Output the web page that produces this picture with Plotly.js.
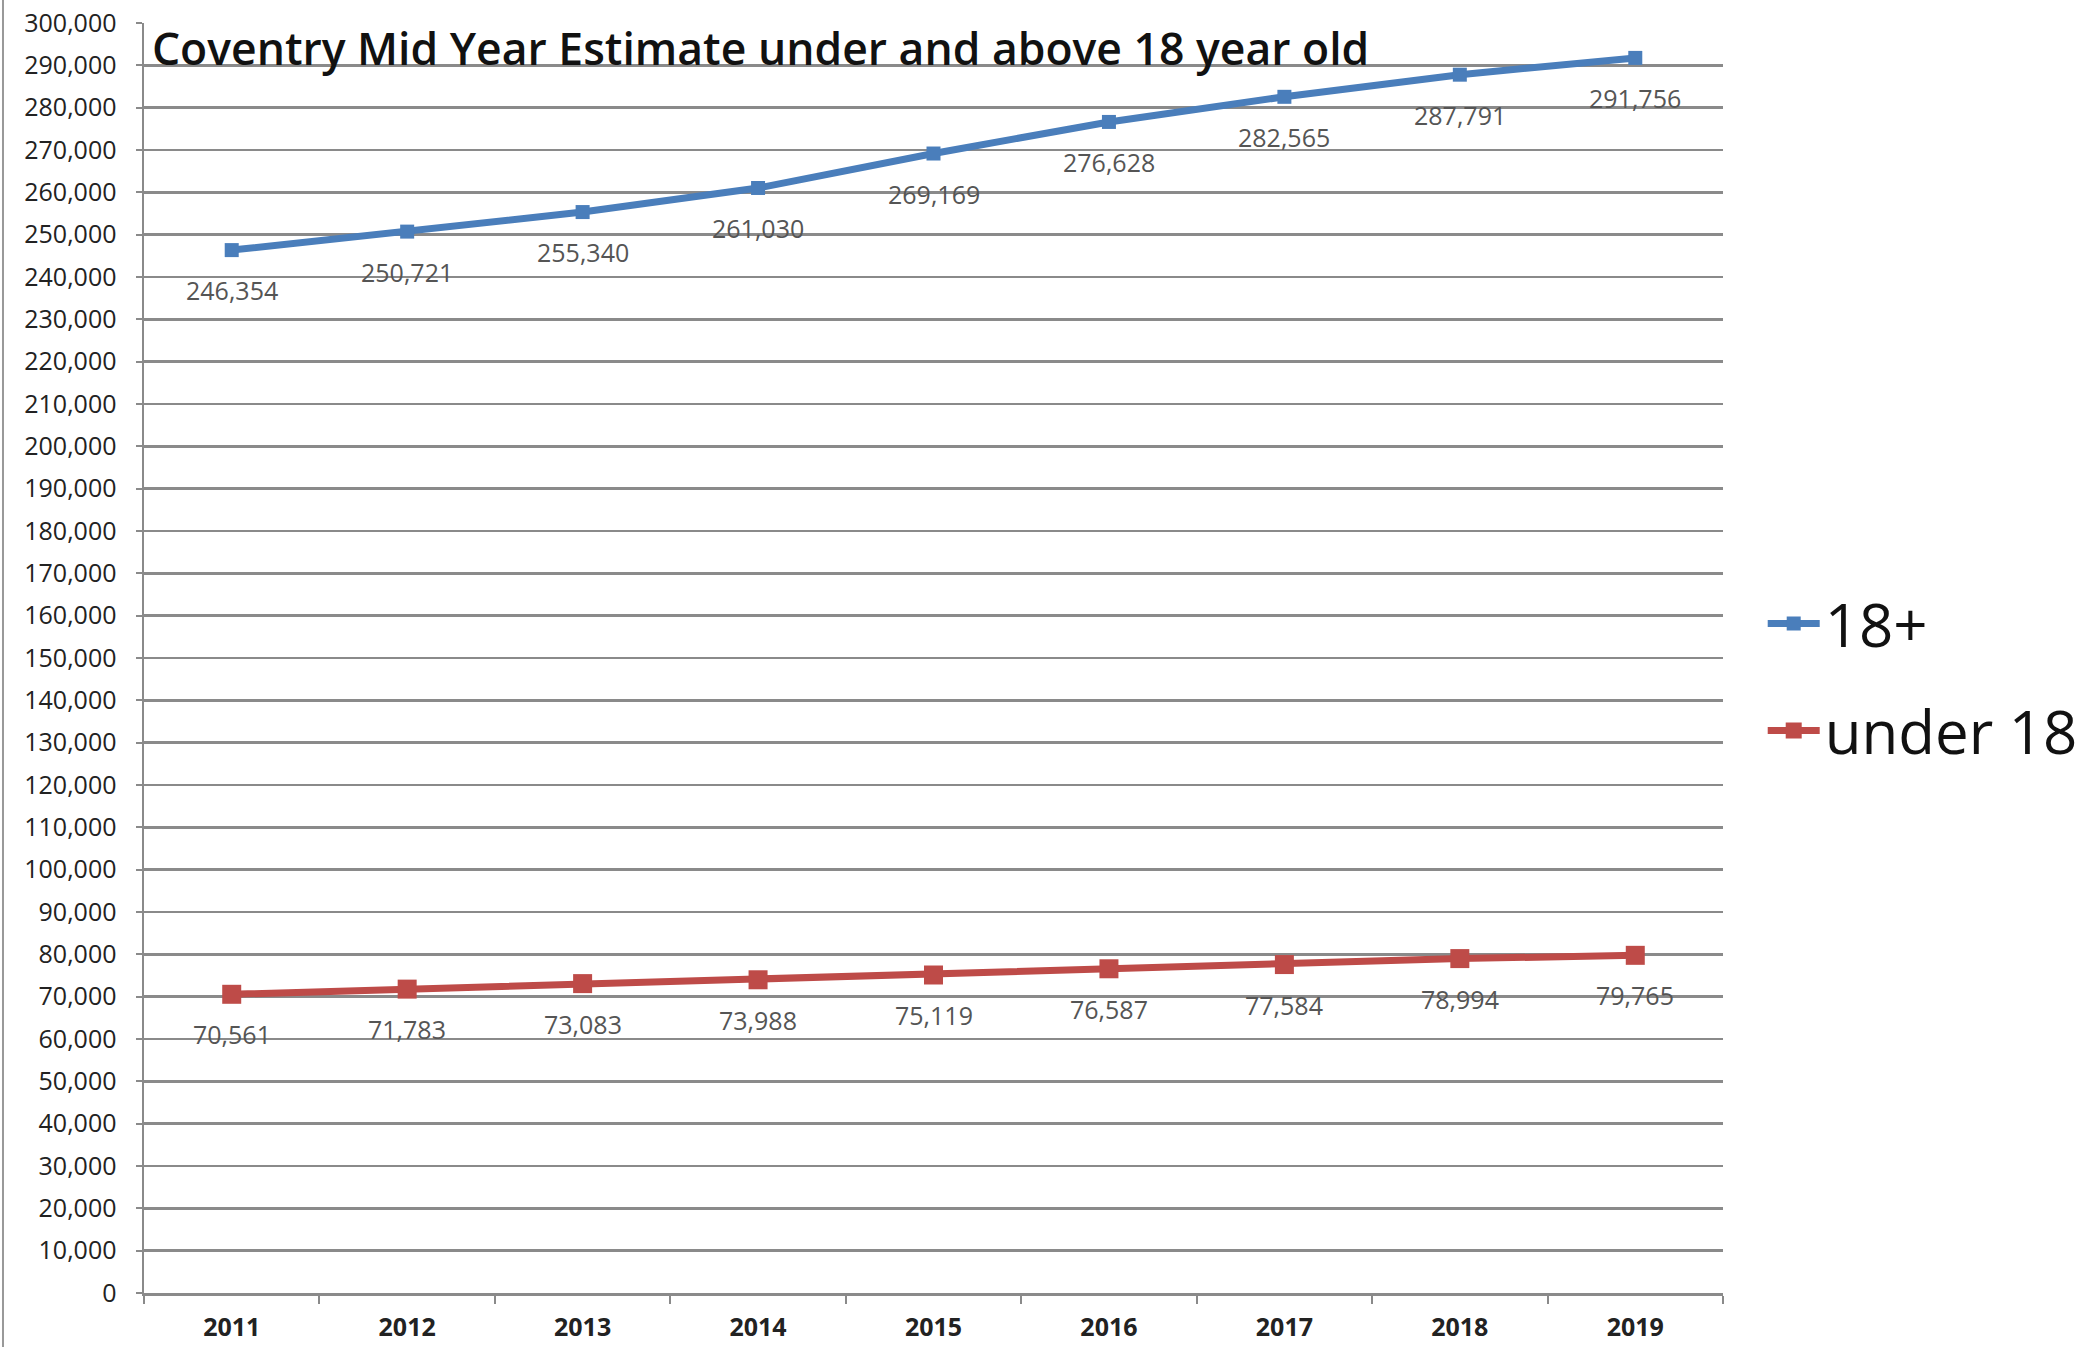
<!DOCTYPE html>
<html>
<head>
<meta charset="utf-8">
<script src="https://cdn.plot.ly/plotly-3.0.1.min.js"></script>
<style>
html,body{margin:0;padding:0;background:#fff;}
#chart{width:2091px;height:1347px;}
</style>
</head>
<body>
<div id="chart"></div>
<script>
const years = ["2011","2012","2013","2014","2015","2016","2017","2018","2019"];
const adults = [246354, 250721, 255340, 261030, 269169, 276628, 282565, 287791, 291756];
const under18 = [70561, 71783, 73083, 73988, 75119, 76587, 77584, 78994, 79765];
const seriesNames = ["18+", "under 18"];
const chartTitle = "Coventry Mid Year Estimate under and above 18 year old";

const fmt = v => v.toLocaleString('en-GB');

const traces = [
  {
    x: years, y: adults, name: seriesNames[0], type: 'scatter',
    mode: 'lines+markers',
    line: {color: '#4A7EBB', width: 7},
    marker: {symbol: 'square', size: 14, color: '#4A7EBB'},
    legendgroup: 'a', cliponaxis: false
  },
  {
    x: years, y: under18, name: seriesNames[1], type: 'scatter',
    mode: 'lines+markers',
    line: {color: '#BE4B48', width: 7},
    marker: {symbol: 'square', size: 19, color: '#BE4B48'},
    legendgroup: 'b', cliponaxis: false
  }
];

const labelFont = {family: 'Open Sans', size: 25, color: '#555'};
const annotations = [];
[adults, under18].forEach(series => {
  series.forEach((v, i) => {
    annotations.push({
      x: i, y: v, xref: 'x', yref: 'y',
      text: fmt(v), showarrow: false,
      yshift: -40, font: labelFont
    });
  });
});

const layout = {
  width: 2091, height: 1347,
  paper_bgcolor: '#fff', plot_bgcolor: '#fff',
  margin: {l: 144, r: 368, t: 23, b: 54, autoexpand: false},
  title: {
    text: chartTitle,
    font: {family: 'Open Sans', size: 44.5, color: '#111', weight: 600},
    xref: 'paper', x: 0.005, xanchor: 'left',
    yref: 'container', y: 0.9636, yanchor: 'middle'
  },
  showlegend: true,
  legend: {
    xref: 'container', x: 0.843, xanchor: 'left',
    y: 0.485, yanchor: 'middle',
    font: {family: 'Open Sans', size: 60, color: '#111'},
    traceorder: 'grouped', tracegroupgap: 26,
    itemwidth: 52,
    bgcolor: 'rgba(0,0,0,0)'
  },
  xaxis: {
    type: 'category',
    categoryorder: 'array', categoryarray: years,
    range: [-0.5, years.length - 0.5],
    showgrid: false,
    showline: true, linecolor: '#8a8a8a', linewidth: 2.5,
    ticks: 'outside', tickson: 'boundaries', ticklen: 8, tickwidth: 2, tickcolor: '#8a8a8a',
    tickfont: {family: 'Open Sans', size: 25, color: '#222', weight: 'bold'},
    tickangle: 0,
    ticklabelstandoff: 10,
    zeroline: false
  },
  yaxis: {
    range: [0, 300000], dtick: 10000, tick0: 0,
    tickformat: ',d',
    showgrid: true, gridcolor: '#8a8a8a', gridwidth: 2.5,
    showline: true, linecolor: '#8a8a8a', linewidth: 2.5,
    ticks: 'outside', ticklen: 6, tickwidth: 2, tickcolor: '#8a8a8a',
    tickfont: {family: 'Open Sans', size: 25, color: '#222'},
    ticklabelstandoff: 14,
    zeroline: false,
    fixedrange: true
  },
  annotations: annotations,
  shapes: [
    {type: 'line', xref: 'paper', yref: 'paper', x0: -0.0893, x1: -0.0893, y0: -0.05, y1: 1.02,
     line: {color: '#999', width: 2}}
  ]
};

Plotly.newPlot('chart', traces, layout, {displayModeBar: false, staticPlot: true});
</script>
</body>
</html>
